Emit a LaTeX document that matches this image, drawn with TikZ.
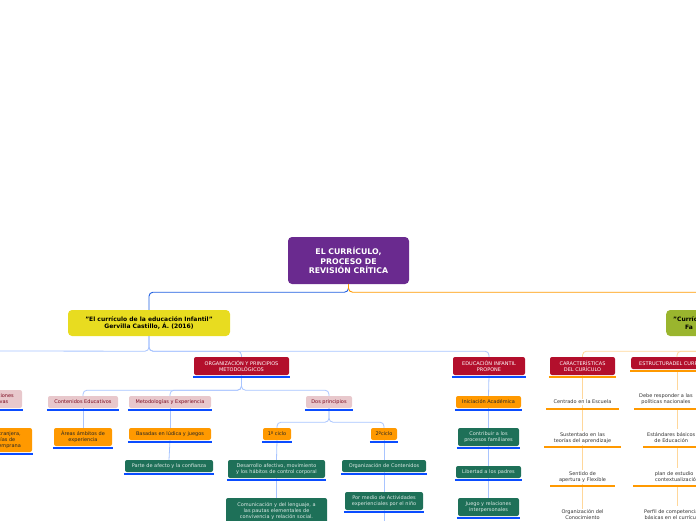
\documentclass[tikz,border=0pt]{standalone}
\usepackage{fontspec}
\setmainfont{DejaVu Sans}
\definecolor{cpurple}{HTML}{6A2A8F}
\definecolor{cyellow}{HTML}{E8DC20}
\definecolor{cgreen}{HTML}{9AB52E}
\definecolor{cred}{HTML}{B30F2C}
\definecolor{cpink}{HTML}{E8C8CC}
\definecolor{corange}{HTML}{FF9900}
\definecolor{cteal}{HTML}{1E7058}
\definecolor{cblue}{HTML}{0A4CFF}
\definecolor{clblue}{HTML}{A8C4FF}
\definecolor{cmblue}{HTML}{2060E0}
\definecolor{clorange}{HTML}{FFD79A}
\tikzset{
 bx/.style={rounded corners=2pt,inner sep=1pt,align=center,font=\fontsize{5}{6}\selectfont},
 redb/.style={bx,fill=cred,text=white},
 pinkb/.style={bx,fill=cpink,text=cred!70!black},
 orb/.style={bx,fill=corange,text=black!85},
 tealb/.style={bx,fill=cteal,text=white!85!cteal},
 plain/.style={bx,text=black!80},
 ul/.style={cblue,line width=2.2pt},
 ulo/.style={corange,line width=2.2pt},
 cl/.style={clblue,line width=0.8pt,rounded corners=4pt},
 clo/.style={clorange,line width=0.8pt,rounded corners=4pt},
}
\begin{document}
\begin{tikzpicture}[x=1pt,y=-1pt]
\useasboundingbox (0,0) rectangle (696,520);
\clip (0,0) rectangle (696,520);
% root
\node[bx,fill=cpurple,text=white,minimum width=121,minimum height=47,rounded corners=4pt,font=\bfseries\fontsize{7.8}{9.8}\selectfont] (root) at (348.5,260.5) {EL CURRÍCULO,\\PROCESO DE\\REVISIÓN CRÍTICA};
\node[bx,fill=cyellow,text=black,minimum width=162,minimum height=26,rounded corners=4pt,font=\bfseries\fontsize{6}{7.5}\selectfont] (yel) at (149,323) {"El currículo de la educación Infantil"\\Gervilla Castillo, Á. (2016)};
\node[bx,fill=cgreen,text=black,text width=104,minimum height=26,rounded corners=4pt,anchor=west,font=\bfseries\fontsize{6}{7.5}\selectfont,align=left,inner sep=3pt] (grn) at (666,323) {\hspace*{4pt}"Currículo\\\hspace*{16pt}Fa};
\draw[cmblue,line width=0.9pt,rounded corners=4pt] (root.south) -- ++(0,8) -| (yel.north);
\draw[corange,line width=0.9pt,rounded corners=4pt] (root.south) -- ++(0,8) -| (700,300);
% level 2 left
\node[redb,minimum width=95,minimum height=18] (org) at (241.5,366) {ORGANIZACIÓN Y PRINCIPIOS\\METODOLÓGICOS};
\node[redb,minimum width=72,minimum height=18] (edu) at (489,366) {EDUCACIÓN INFANTIL\\PROPONE};
\node[pinkb,minimum width=50,minimum height=18] (rel) at (-3,399) {Interacciones\\afectivas};
\draw[cl] (yel.south) -- ++(0,15) -| (org.north);
\draw[cl] (yel.south) -- ++(0,15) -| (edu.north);
\draw[cl] (yel.south) -- ++(0,15) -- (-10,351);
% level 3
\node[pinkb,minimum width=70,minimum height=12] (cont) at (83,402) {Contenidos Educativos};
\node[pinkb,minimum width=82,minimum height=12] (met) at (170,402) {Metodologías y Experiencia};
\node[pinkb,minimum width=46,minimum height=12] (dos) at (329,402) {Dos principios};
\draw[cl] (org.south) -- ++(0,15) -| (cont.north);
\draw[cl] (org.south) -- ++(0,15) -| (met.north);
\draw[cl] (org.south) -- ++(0,15) -| (dos.north);
\node[orb,minimum width=70,minimum height=24] (leng) at (-3,440) {Lengua extranjera,\\tecnologías de\\atención temprana};
\node[orb,minimum width=58,minimum height=18] (areas) at (83,437) {Áreas ámbitos de\\experiencia};
\node[orb,minimum width=82,minimum height=12] (bas) at (170,434) {Basadas en lúdica y juegos};
\node[tealb,minimum width=88,minimum height=12] (parte) at (169,466) {Parte de afecto y la confianza};
\node[orb,minimum width=28,minimum height=12] (c1) at (277,434) {1º ciclo};
\node[orb,minimum width=26,minimum height=12] (c2) at (384,434) {2ºciclo};
\node[tealb,minimum width=97,minimum height=18] (des) at (276.5,469) {Desarrollo afectivo, movimiento\\y los hábitos de control corporal};
\node[tealb,minimum width=101,minimum height=26] (com) at (276.5,511) {Comunicación y del lenguaje, a\\las pautas elementales de\\convivencia y relación social.};
\node[tealb,minimum width=84,minimum height=12] (orgc) at (384,466) {Organización de Contenidos};
\node[tealb,minimum width=78,minimum height=18] (pormed) at (384,501) {Por medio de Actividades\\experienciales por el niño};
\draw[cl] (cont.south) -- (areas.north);
\draw[cl] (met.south) -- (bas.north);
\draw[cl] (bas.south) -- (parte.north);
\draw[cl] (dos.south) -- ++(0,14) -| (c1.north);
\draw[cl] (dos.south) -- ++(0,14) -| (c2.north);
\draw[cl] (c1.south) -- (des.north);
\draw[cl] (des.south) -- (com.north);
\draw[cl] (c2.south) -- (orgc.north);
\draw[cl] (orgc.south) -- (pormed.north);
\draw[cl] (pormed.south) -- (384,525);
\draw[cl] (rel.south) -- (leng.north);
% edu column
\node[orb,minimum width=65,minimum height=12] (ini) at (488.5,402) {Iniciación Académica};
\node[tealb,minimum width=61,minimum height=18] (contr) at (488.5,437) {Contribuir a los\\procesos familiares};
\node[tealb,minimum width=65,minimum height=12] (lib) at (488.5,472) {Libertad a los padres};
\node[tealb,minimum width=61,minimum height=18] (jue) at (488.5,507) {Juego y relaciones\\interpersonales};
\draw[cl] (edu.south) -- (ini.north);
\draw[cl] (ini.south) -- (contr.north);
\draw[cl] (contr.south) -- (lib.north);
\draw[cl] (lib.south) -- (jue.north);
% underlines blue
\foreach \n in {org,edu,rel,cont,met,dos,leng,areas,bas,parte,c1,c2,des,orgc,pormed,ini,contr,lib,jue}
  \draw[ul] ([xshift=-1pt,yshift=-1.5pt]\n.south west) -- ([xshift=1pt,yshift=-1.5pt]\n.south east);
% right side
\node[redb,minimum width=65,minimum height=18] (car) at (582.5,366) {CARACTERÍSTICAS\\DEL CURÍCULO};
\node[redb,minimum width=90,minimum height=12,anchor=west] (est) at (631,363) {ESTRUCTURADEL CURRÍCULO};
\draw[clo] (grn.south) ++(11,0) -- ++(0,15) -| (car.north);
\draw[clo] (grn.south) ++(11,0) -- ++(0,15) -| (677,357);
\node[plain,minimum width=73] (r1) at (582.5,402) {Centrado en la Escuela};
\node[plain,minimum width=77] (r2) at (582.5,438) {Sustentado en las\\teorías del aprendizaje};
\node[plain,minimum width=65] (r3) at (582.5,477) {Sentido de\\apertura y Flexible};
\node[plain,minimum width=65] (r4) at (582.5,515) {Organización del\\Conocimiento};
\node[plain,anchor=west] (s1) at (638,399) {Debe responder a las\\políticas nacionales};
\node[plain,anchor=west] (s2) at (646,438) {Estándares básicos\\de Educación};
\node[plain,anchor=west] (s3) at (648,477) {plan de estudio\\\hspace*{6pt}contextualización};
\node[plain,anchor=west] (s4) at (643,515) {Perfil de competencias\\básicas en el currículo};
\draw[clo] (car.south) -- (r1.north);
\draw[clo] (r1.south) -- (r2.north);
\draw[clo] (r2.south) -- (r3.north);
\draw[clo] (r3.south) -- (r4.north);
\draw[clo] (677,372) -- (677,390);
\draw[clo] (677,410) -- (677,429);
\draw[clo] (677,448) -- (677,468);
\draw[clo] (677,487) -- (677,506);
\draw[ulo] ([xshift=-1pt,yshift=-1.5pt]car.south west) -- ([xshift=1pt,yshift=-1.5pt]car.south east);
\draw[ulo] ([xshift=-1pt,yshift=-1.5pt]est.south west) -- ([xshift=1pt,yshift=-1.5pt]est.south east);
\draw[ulo] (546,409) -- (619,409);
\draw[ulo] (544,447) -- (621,447);
\draw[ulo] (550,486) -- (615,486);
\draw[ulo] (634,409) -- (700,409);
\draw[ulo] (643,447) -- (700,447);
\draw[ulo] (633,486) -- (700,486);
\end{tikzpicture}
\end{document}
